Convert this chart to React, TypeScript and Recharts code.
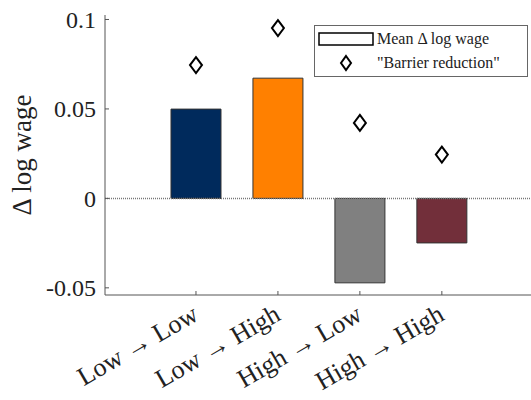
import React from "react";
import {
  ComposedChart,
  Bar,
  Scatter,
  Cell,
  XAxis,
  YAxis,
  ReferenceLine,
  Legend,
} from "recharts";

const categories = ["Low \u2192 Low", "Low \u2192 High", "High \u2192 Low", "High \u2192 High"];
const meanLogWage = [0.0499, 0.0672, -0.0472, -0.0249];
const barrierReduction = [0.0745, 0.0952, 0.0422, 0.0245];
const barColors = ["#002A5C", "#FF8000", "#808080", "#722F3A"];
const yTicks = [-0.05, 0, 0.05, 0.1];
const yTickLabels = ["-0.05", "0", "0.05", "0.1"];

const data = categories.map((c, i) => ({
  x: i + 1,
  name: c,
  mean: meanLogWage[i],
  barrier: barrierReduction[i],
}));

const FONT = "'Liberation Serif', 'Times New Roman', serif";
const AXIS = "#555";

const W = 532;
const H = 400;
const margin = { top: 15, right: 0, bottom: 0, left: 0 };

const LeftTick = (props: any) => {
  const { x, y, index } = props;
  return (
    <g>
      <line x1={x} x2={x + 4} y1={y} y2={y} stroke={AXIS} />
      <text x={x - 9} y={y} dy="0.34em" textAnchor="end" fontFamily={FONT} fontSize={24} fill="#222">
        {yTickLabels[yTicks.indexOf(props.payload.value)] ?? yTickLabels[index]}
      </text>
    </g>
  );
};

const RightTick = (props: any) => {
  const { x, y } = props;
  return <line x1={x} x2={x - 4} y1={y} y2={y} stroke={AXIS} />;
};

const TopTick = (props: any) => {
  const { x, y } = props;
  return <line x1={x} x2={x} y1={y} y2={y + 4} stroke={AXIS} />;
};

const BottomTick = (props: any) => {
  const { x, y, payload } = props;
  const label = categories[payload.value - 1];
  const ax = x + 4;
  const ay = y + 24;
  return (
    <g>
      <line x1={x} x2={x} y1={y} y2={y - 4} stroke={AXIS} />
      <text
        x={ax}
        y={ay}
        textAnchor="end"
        fontFamily={FONT}
        fontSize={26}
        fill="#222"
        transform={`rotate(-30 ${ax} ${ay})`}
      >
        {label}
      </text>
    </g>
  );
};

const YLabel = (props: any) => {
  const vb = props.viewBox || { y: 15, height: 280 };
  const cy = vb.y + vb.height / 2;
  return (
    <text
      x={31}
      y={cy}
      textAnchor="middle"
      fontFamily={FONT}
      fontSize={27}
      fill="#222"
      transform={`rotate(-90 31 ${cy})`}
    >
      {"\u0394 log wage"}
    </text>
  );
};

const Diamond = (props: any) => {
  const { cx, cy } = props;
  if (cx == null || cy == null) return null;
  return (
    <path
      d={`M${cx} ${cy - 8} L${cx + 6} ${cy} L${cx} ${cy + 8} L${cx - 6} ${cy} Z`}
      fill="#fff"
      stroke="#000"
      strokeWidth={2}
    />
  );
};

const LegendBox = () => (
  <svg width={214} height={52} style={{ display: "block" }}>
    <rect x={0.5} y={0.5} width={213} height={51} fill="#fff" stroke="#666" />
    <rect x={5} y={8} width={54} height={12} fill="#fff" stroke="#000" strokeWidth={1.5} />
    <text x={63} y={19} fontFamily={FONT} fontSize={16} fill="#222">
      Mean {"\u0394"} log wage
    </text>
    <path d="M32 31 L37 38 L32 45 L27 38 Z" fill="#fff" stroke="#000" strokeWidth={2} />
    <text x={63} y={43} fontFamily={FONT} fontSize={16} fill="#222">
      "Barrier reduction"
    </text>
  </svg>
);

export default function App() {
  return (
    <div style={{ position: "absolute", left: 0, top: 0, width: 531, height: 400, overflow: "hidden", background: "#fff" }}>
      <ComposedChart width={W} height={H} data={data} margin={margin}>
        <XAxis
          xAxisId="bottom"
          dataKey="x"
          type="number"
          domain={[-0.11, 5.1]}
          ticks={[1, 2, 3, 4]}
          height={105}
          tickSize={0}
          tickMargin={0}
          tickLine={false}
          axisLine={{ stroke: AXIS }}
          tick={<BottomTick />}
          interval={0}
        />
        <XAxis
          xAxisId="top"
          orientation="top"
          dataKey="x"
          type="number"
          domain={[-0.11, 5.1]}
          ticks={[1, 2, 3, 4]}
          height={0}
          tickSize={0}
          tickMargin={0}
          tickLine={false}
          axisLine={{ stroke: AXIS }}
          tick={<TopTick />}
          interval={0}
        />
        <YAxis
          yAxisId="left"
          type="number"
          domain={[-0.054, 0.1025]}
          ticks={yTicks}
          width={105}
          tickSize={0}
          tickMargin={0}
          tickLine={false}
          axisLine={{ stroke: AXIS }}
          tick={<LeftTick />}
          interval={0}
          allowDataOverflow
          label={<YLabel />}
        />
        <YAxis
          yAxisId="right"
          orientation="right"
          type="number"
          domain={[-0.054, 0.1025]}
          ticks={yTicks}
          width={0}
          tickSize={0}
          tickMargin={0}
          tickLine={false}
          axisLine={{ stroke: AXIS }}
          tick={<RightTick />}
          interval={0}
          allowDataOverflow
        />
        <ReferenceLine
          y={0}
          xAxisId="bottom"
          yAxisId="left"
          stroke="#777"
          strokeWidth={1.5}
          strokeDasharray="1 1"
        />
        <Bar
          dataKey="mean"
          xAxisId="bottom"
          yAxisId="left"
          barSize={50}
          stroke="#333"
          strokeWidth={1}
          isAnimationActive={false}
        >
          {data.map((d, i) => (
            <Cell key={d.name} fill={barColors[i]} />
          ))}
        </Bar>
        <Scatter
          dataKey="barrier"
          xAxisId="bottom"
          yAxisId="left"
          shape={<Diamond />}
          isAnimationActive={false}
        />
        <Legend
          layout="horizontal"
          verticalAlign="middle"
          align="center"
          content={<LegendBox />}
          wrapperStyle={{ position: "absolute", left: 314, top: 25, width: 214, height: 52 }}
        />
      </ComposedChart>
    </div>
  );
}
